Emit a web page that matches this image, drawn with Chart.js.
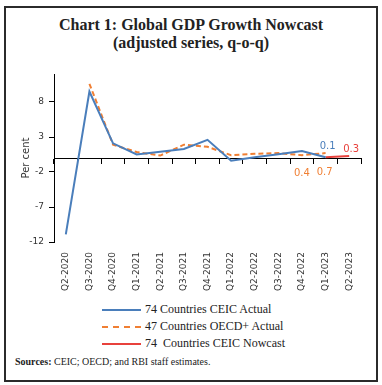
<!DOCTYPE html>
<html>
<head>
<meta charset="utf-8">
<script src="https://cdn.jsdelivr.net/npm/chart.js@4.4.1/dist/chart.umd.min.js"></script>
<style>
  html, body { margin: 0; padding: 0; background: #fff; }
  body { width: 382px; height: 385px; position: relative; overflow: hidden; }
  #frame { position: absolute; left: 4px; top: 6px; width: 370px; height: 372px; border: 2px solid #2b2b2b; }
  #title { position: absolute; left: 0; top: 16px; width: 382px; text-align: center;
           font: bold 16px/17.5px 'Liberation Serif', serif; color: #222; }
  #wrap { position: absolute; left: 0; top: 60px; width: 382px; height: 240px; }
  .leg { position: absolute; left: 102px; height: 14px; font: 12px 'Liberation Serif', serif; color: #222; white-space: pre; }
  .leg .ln { position: absolute; left: 0; top: 6px; width: 39px; height: 0; }
  .leg .tx { position: absolute; left: 43px; top: -1px; line-height: 14px; }
  #src { position: absolute; left: 15px; top: 356px; font: 10px 'Liberation Serif', serif; color: #222; }
</style>
</head>
<body>
<div id="frame"></div>
<div id="title">Chart 1: Global GDP Growth Nowcast<br>(adjusted series, q-o-q)</div>
<div id="wrap"><canvas id="c" width="382" height="240"></canvas></div>
<div class="leg" style="top:303px"><div class="ln" style="border-top:2px solid #4A7EBB"></div><div class="tx">74 Countries CEIC Actual</div></div>
<div class="leg" style="top:320px"><div class="ln" style="border-top:2px dashed #F07F33"></div><div class="tx">47 Countries OECD+ Actual</div></div>
<div class="leg" style="top:337px"><div class="ln" style="border-top:2px solid #E8413C"></div><div class="tx">74  Countries CEIC Nowcast</div></div>
<div id="src"><b>Sources:</b> CEIC; OECD; and RBI staff estimates.</div>
<script>
const quarters = ['Q2-2020','Q3-2020','Q4-2020','Q1-2021','Q2-2021','Q3-2021','Q4-2021','Q1-2022','Q2-2022','Q3-2022','Q4-2022','Q1-2023','Q2-2023'];
const ceicActual = [-10.9, 9.5, 2.1, 0.5, 0.9, 1.3, 2.6, -0.4, 0.1, 0.55, 1.0, 0.1, null];
const oecdActual = [null, 10.6, 1.9, 0.85, 0.35, 1.9, 1.6, 0.4, 0.6, 0.7, 0.4, 0.7, null];
const ceicNowcast = [null, null, null, null, null, null, null, null, null, null, null, 0.1, 0.3];
const yTicks = [-12, -7, -2, 3, 8];
const yMin = -12, yMax = 12;

const pointLabels = [
  {series: 0, index: 11, dx: 2, dy: -11},
  {series: 1, index: 10, dx: 0, dy: 18},
  {series: 1, index: 11, dx: -1, dy: 19},
  {series: 2, index: 12, dx: 2, dy: -6}
];

const labelPlugin = {
  id: 'pointLabels',
  afterDatasetsDraw(chart) {
    const ctx = chart.ctx;
    ctx.save();
    ctx.font = '10px "DejaVu Sans", sans-serif';
    ctx.textAlign = 'center';
    ctx.textBaseline = 'middle';
    pointLabels.forEach(l => {
      const ds = chart.data.datasets[l.series];
      const pt = chart.getDatasetMeta(l.series).data[l.index];
      ctx.fillStyle = ds.borderColor;
      ctx.fillText(ds.data[l.index].toFixed(1), pt.x + l.dx, pt.y + l.dy);
    });
    ctx.restore();
  }
};

new Chart(document.getElementById('c'), {
  type: 'line',
  data: {
    labels: quarters,
    datasets: [
      {label: '74 Countries CEIC Actual', data: ceicActual, borderColor: '#4A7EBB', borderWidth: 2, pointRadius: 0, tension: 0},
      {label: '47 Countries OECD+ Actual', data: oecdActual, borderColor: '#F07F33', borderWidth: 2, borderDash: [5, 3], pointRadius: 0, tension: 0},
      {label: '74  Countries CEIC Nowcast', data: ceicNowcast, borderColor: '#E8413C', borderWidth: 2, pointRadius: 0, tension: 0}
    ]
  },
  options: {
    responsive: false,
    animation: false,
    events: [],
    layout: {padding: {left: 0, top: 14, right: 21, bottom: 0}},
    plugins: {legend: {display: false}, tooltip: {enabled: false}},
    scales: {
      x: {
        type: 'category',
        offset: true,
        border: {display: false},
        grid: {display: false, drawTicks: false, offset: true},
        ticks: {autoSkip: false, maxRotation: 90, minRotation: 90, padding: 10, color: '#333',
                font: {family: 'DejaVu Sans', size: 9}},
        afterFit: s => { s.height = 58; }
      },
      x2: {
        type: 'category',
        position: {y: 0},
        offset: true,
        border: {display: true, color: '#000', width: 1},
        grid: {drawOnChartArea: false, drawTicks: true, tickLength: 5, offset: true, color: '#000'},
        ticks: {display: false}
      },
      y: {
        min: yMin, max: yMax,
        border: {display: true, color: '#000', width: 1},
        grid: {drawOnChartArea: false, drawTicks: true, tickLength: 5, color: '#000'},
        afterBuildTicks: s => { s.ticks = yTicks.map(v => ({value: v})); },
        ticks: {padding: 5, color: '#333', font: {family: 'DejaVu Sans', size: 9}},
        title: {display: true, text: 'Per cent', color: '#333', padding: {top: 20, bottom: 0},
                font: {family: 'DejaVu Sans', size: 10}},
        afterFit: s => { s.width = 54; }
      }
    }
  },
  plugins: [labelPlugin]
});
</script>
</body>
</html>
